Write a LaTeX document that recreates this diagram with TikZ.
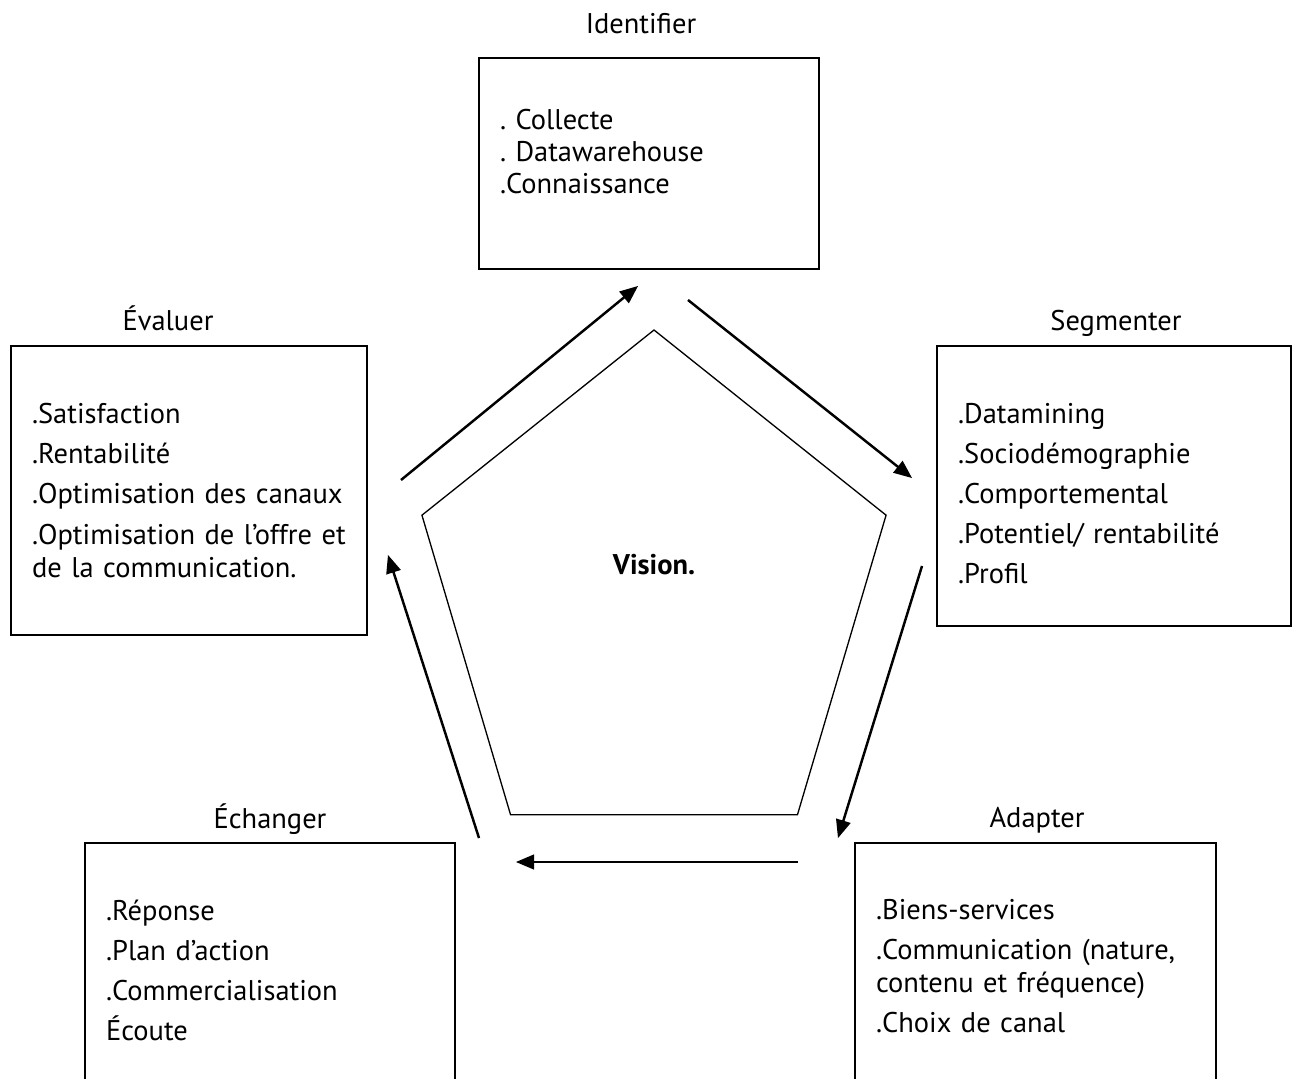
\documentclass[tikz,border=0pt]{standalone}
\usepackage{fontspec}
\setmainfont{PT Sans}[WordSpace=0.72]
\usepackage{tikz}
\usetikzlibrary{arrows,positioning,calc}
\frenchspacing

\begin{document}
\begin{tikzpicture}[x=0.02cm,y=-0.02cm,->,>=triangle 45,line width=1.4pt,
	etape/.style={draw=black,line width=1.1pt,rectangle,align=left,inner xsep=0.42cm,inner ysep=0pt,font=\fontsize{16.2}{18.8}\selectfont},
	titre/.style={anchor=base,font=\fontsize{16.2}{18.8}\selectfont}]
	\useasboundingbox (0,0) rectangle (1293,1078);
	\clip (0,0) rectangle (1293,1078);

	% les cinq etapes
	\node[etape,minimum width=6.8cm,minimum height=4.22cm,text width=5.96cm]	(ident)	at (649,163.5)
		{. Collecte\\[-0.5pt]. Datawarehouse\\[-0.5pt].Connaissance\\[-0.18cm]\mbox{}};
	\node[etape,minimum width=7.08cm,minimum height=5.6cm,text width=6.24cm]	(segm)	at (1114,486)
		{\mbox{}\\[0.04cm].Datamining\\[4pt].Sociodémographie\\[4pt].Comportemental\\[4pt].Potentiel/ rentabilité\\[4pt].Profil};
	\node[etape,minimum width=7.22cm,minimum height=4.92cm,text width=6.38cm]	(adapt)	at (1035.5,966)
		{.Biens-services\\[4pt].Communication (nature,\\contenu et fréquence)\\[4pt].Choix de canal};
	\node[etape,minimum width=7.4cm,minimum height=5.08cm,text width=6.56cm]	(echan)	at (270,970)
		{.Réponse\\[4pt].Plan d’action\\[4pt].Commercialisation\\[4pt]Écoute};
	\node[etape,minimum width=7.12cm,minimum height=5.78cm,text width=6.28cm]	(eval)	at (189,490.5)
		{.Satisfaction\\[4pt].Rentabilité\\[4pt].Optimisation des canaux\\[4pt].Optimisation de l’offre et\\de la communication.};

	\node[titre]	(identt)	at (641,34)		{Identifier};
	\node[titre]	(segmt)		at (1116,330)	{Segmenter};
	\node[titre]	(adaptt)	at (1037,827)	{Adapter};
	\node[titre]	(echant)	at (270,828)	{Échanger};
	\node[titre]	(evalt)		at (168,330)	{Évaluer};

	% le pentagone
	\coordinate (centre) at (654,598);
	\draw[-,line width=0.75pt] ($(centre)+(-90:244 and 268)$) -- ($(centre)+(-18:244 and 268)$) -- ($(centre)+(54:244 and 268)$)
		-- ($(centre)+(126:244 and 268)$) -- ($(centre)+(198:244 and 268)$) -- cycle;
	\node[font=\fontsize{16.2}{18.8}\selectfont\bfseries]	(vision)	at (654,565)	{Vision.};

	% les fleches
	\coordinate (f1a) at (401,480);	\coordinate (f1b) at (638,286);
	\coordinate (f2a) at (688,300);	\coordinate (f2b) at (912,478);
	\coordinate (f3a) at (922,566);	\coordinate (f3b) at (838,838);
	\coordinate (f4a) at (798,862);	\coordinate (f4b) at (516,862);
	\coordinate (f5a) at (479,838);	\coordinate (f5b) at (388,555);
	\path
		(f1a)	edge	(f1b)
		(f2a)	edge	(f2b)
		(f3a)	edge	(f3b)
		(f4a)	edge	(f4b)
		(f5a)	edge	(f5b)
	;
\end{tikzpicture}
\end{document}
